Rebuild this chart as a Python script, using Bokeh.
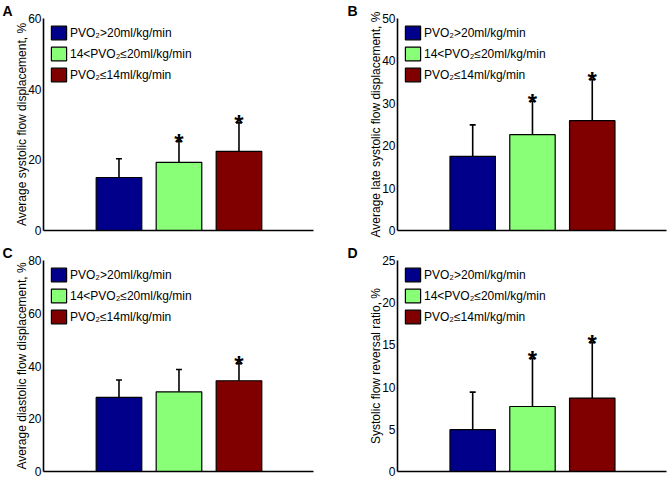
from bokeh.plotting import figure
from bokeh.layouts import gridplot
from bokeh.models import (Range1d, FixedTicker, Whisker, TeeHead, Legend,
                          LegendItem, ColumnDataSource)
from bokeh.core.properties import value
from bokeh.embed import file_html
from bokeh.resources import INLINE

FONT = "Liberation Sans"

groups = ["PVO\u2082>20ml/kg/min", "14<PVO\u2082\u226420ml/kg/min", "PVO\u2082\u226414ml/kg/min"]
colors = ["#00008a", "#88ff77", "#800000"]
positions = [1, 2, 3]

# Panel A
a_mean = [15.0, 19.3, 22.4]
a_sd = [5.3, 6.0, 8.1]
a_sig = [False, True, True]
a_ticks = [0, 20, 40, 60]
# Panel B
b_mean = [17.5, 22.6, 25.9]
b_sd = [7.4, 7.9, 9.7]
b_sig = [False, True, True]
b_ticks = [0, 10, 20, 30, 40, 50]
# Panel C
c_mean = [28.1, 30.2, 34.4]
c_sd = [6.6, 8.5, 6.6]
c_sig = [False, False, True]
c_ticks = [0, 20, 40, 60, 80]
# Panel D
d_mean = [4.95, 7.7, 8.7]
d_sd = [4.45, 5.7, 6.6]
d_sig = [False, True, True]
d_ticks = [0, 5, 10, 15, 20, 25]


def panel(mean, sd, sig, ticks, ylabel, letter, size, borders, letter_dx):
    w, h = size
    left, right, top, bottom = borders
    p = figure(width=w, height=h, output_backend="svg", toolbar_location=None,
               x_range=Range1d(-0.258, 4.242), y_range=Range1d(ticks[0], ticks[-1]),
               min_border_left=left, min_border_right=right,
               min_border_top=top, min_border_bottom=bottom,
               title=letter, title_location="above")
    p.outline_line_color = None
    p.grid.visible = False
    p.background_fill_color = "white"
    p.border_fill_color = "white"

    t = p.title
    t.text_font = FONT
    t.text_font_style = "bold"
    t.text_font_size = "14px"
    t.text_color = "black"
    t.align = "left"
    t.offset = letter_dx
    t.standoff = 0
    t.text_line_height = 1.0

    src = ColumnDataSource(dict(x=positions, top=mean, upper=[m + s for m, s in zip(mean, sd)],
                                color=colors, label=groups))
    r = p.vbar(x="x", top="top", bottom=0, width=0.76, fill_color="color",
               line_color="black", line_width=1.2, source=src)

    wh = Whisker(base="x", upper="upper", lower="top", source=src, dimension="height",
                 line_width=1.6, line_color="black", lower_head=None,
                 upper_head=TeeHead(size=6, line_width=1.6, line_color="black"))
    p.add_layout(wh)

    sx = [x for x, s in zip(positions, sig) if s]
    sy = [m + d for m, d, s in zip(mean, sd, sig) if s]
    p.text(x=sx, y=sy, text=["*"] * len(sx), text_align="center", text_baseline="alphabetic",
           text_font=value(FONT), text_font_style="bold", text_font_size="24px",
           y_offset=1, text_color="black")

    yax = p.yaxis[0]
    yax.ticker = FixedTicker(ticks=ticks)
    yax.axis_label = ylabel
    yax.axis_label_text_font = FONT
    yax.axis_label_text_font_style = "normal"
    yax.axis_label_text_font_size = "12px"
    yax.axis_label_text_color = "black"
    yax.axis_label_standoff = -4
    yax.major_label_text_font = FONT
    yax.major_label_text_font_size = "12px"
    yax.major_label_text_color = "black"
    yax.major_label_standoff = 2
    yax.major_tick_in = 0
    yax.major_tick_out = 0
    yax.minor_tick_in = 0
    yax.minor_tick_out = 0
    yax.axis_line_width = 1.6
    yax.axis_line_color = "black"

    xax = p.xaxis[0]
    xax.ticker = FixedTicker(ticks=[])
    xax.major_tick_in = 0
    xax.major_tick_out = 0
    xax.minor_tick_in = 0
    xax.minor_tick_out = 0
    xax.major_label_standoff = 0
    xax.axis_line_width = 1.6
    xax.axis_line_color = "black"

    items = [LegendItem(label=g, renderers=[r], index=i) for i, g in enumerate(groups)]
    leg = Legend(items=items, location="top_left", margin=6, padding=0, spacing=4,
                 glyph_width=19, glyph_height=17, label_height=17, label_standoff=2,
                 label_text_font=FONT, label_text_font_size="12px", label_text_color="black",
                 border_line_alpha=0, background_fill_alpha=0)
    p.add_layout(leg)
    return p


pA = panel(a_mean, a_sd, a_sig, a_ticks, "Average systolic flow displacement, %", "A",
           (334, 242), (43, 21, 17, 9), -41)
pB = panel(b_mean, b_sd, b_sig, b_ticks, "Average late systolic flow displacement, %", "B",
           (333, 242), (63, 1, 18, 12), -50)
pC = panel(c_mean, c_sd, c_sig, c_ticks, "Average diastolic flow displacement, %", "C",
           (334, 236), (43, 21, 15, 7), -41)
pD = panel(d_mean, d_sd, d_sig, d_ticks, "Systolic flow reversal ratio, %", "D",
           (333, 236), (63, 1, 15, 7), -50)

grid = gridplot([[pA, pB], [pC, pD]], toolbar_location=None)
open("out.html", "w").write(file_html(grid, INLINE))
